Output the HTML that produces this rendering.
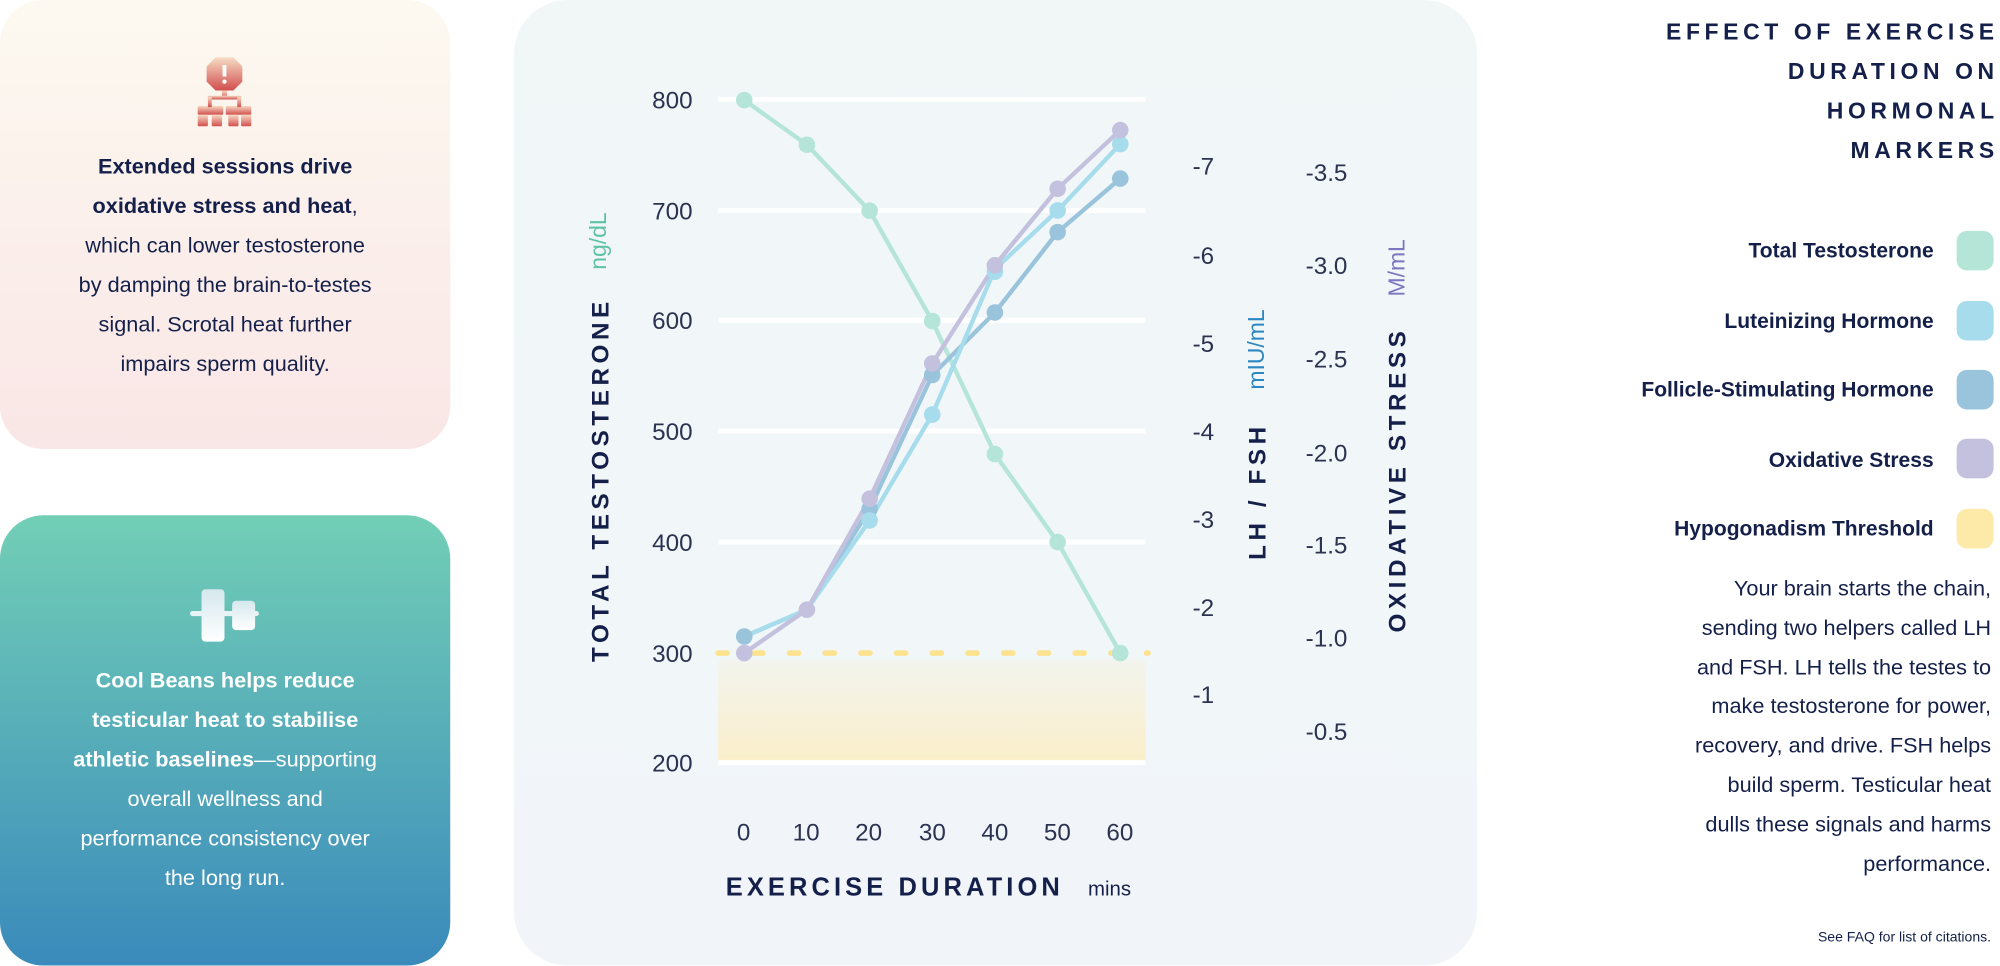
<!DOCTYPE html>
<html><head><meta charset="utf-8"><style>
html,body{margin:0;padding:0;background:#fff;width:2000px;height:965px;overflow:hidden}
#w{position:absolute;left:0;top:0;width:1568px;height:757px;transform:scale(1.27551);transform-origin:0 0;font-family:"Liberation Sans",sans-serif;color:#14204a}
.card{position:absolute;border-radius:34px}
.t{position:absolute;text-align:center;font-size:17px;line-height:31px}
</style></head><body><div id="w">
<div class="card" style="left:0;top:0;width:353px;height:352px;background:linear-gradient(#fdf9f0,#f9e6e6)"></div>
<svg style="position:absolute;left:145px;top:40px" width="62" height="60" viewBox="0 0 62 60">
<defs><linearGradient id="rg" x1="0" y1="0" x2="0" y2="1"><stop offset="0" stop-color="#f6dcc4"/><stop offset="1" stop-color="#d24e4e"/></linearGradient></defs>
<g fill="url(#rg)"><polygon points="24,5 38,5 45,12 45,24 38,31 24,31 17,24 17,12"/>
<rect x="29" y="31" width="4" height="6"/><rect x="18" y="35" width="26" height="3"/>
<rect x="10" y="43" width="20" height="7" rx="1"/><rect x="32" y="43" width="20" height="7" rx="1"/>
<rect x="10" y="50" width="8" height="9" rx="1"/><rect x="21" y="50" width="8" height="9" rx="1"/><rect x="34" y="50" width="8" height="9" rx="1"/><rect x="44" y="50" width="8" height="9" rx="1"/>
<rect x="18" y="36" width="3" height="8"/><rect x="41" y="36" width="3" height="8"/></g>
<rect x="29.5" y="11" width="3" height="9" fill="#fff"/><circle cx="31" cy="24" r="1.7" fill="#fff"/></svg>
<div class="t" style="left:0;width:353px;top:115px"><b>Extended sessions drive<br>oxidative stress and heat</b>,<br>which can lower testosterone<br>by damping the brain-to-testes<br>signal. Scrotal heat further<br>impairs sperm quality.</div>

<div class="card" style="left:0;top:404px;width:353px;height:353px;background:linear-gradient(#72cfb6,#3a8abb)"></div>
<svg style="position:absolute;left:145px;top:455px" width="62" height="60" viewBox="0 0 62 60">
<defs><linearGradient id="wg" x1="0" y1="0" x2="0" y2="1"><stop offset="0" stop-color="#d5e8ee"/><stop offset="1" stop-color="#fff"/></linearGradient></defs>
<rect x="4" y="24" width="54" height="4" rx="2" fill="#e8f3f5"/>
<rect x="13" y="7" width="18" height="41" rx="3" fill="url(#wg)"/><rect x="37" y="16" width="18" height="23" rx="3" fill="url(#wg)"/></svg>
<div class="t" style="left:0;width:353px;top:518px;color:#fff"><b>Cool Beans helps reduce<br>testicular heat to stabilise<br>athletic baselines</b>—supporting<br>overall wellness and<br>performance consistency over<br>the long run.</div>

<div class="card" style="left:403px;top:0;width:755px;height:757px;border-radius:42px;background:linear-gradient(#f1f7f7,#f1f5fa)"></div>
<svg style="position:absolute;left:0;top:0" width="1568" height="757">
<defs><linearGradient id="band" x1="0" y1="0" x2="0" y2="1"><stop offset="0" stop-color="#f2f4ee"/><stop offset="1" stop-color="#fbefcb"/></linearGradient></defs>
<rect x="563" y="517" width="335" height="80" fill="url(#band)"/>
<g stroke="#fff" stroke-width="4"><line x1="563" x2="898" y1="78" y2="78"/><line x1="563" x2="898" y1="165" y2="165"/><line x1="563" x2="898" y1="251" y2="251"/><line x1="563" x2="898" y1="338" y2="338"/><line x1="563" x2="898" y1="425" y2="425"/><line x1="563" x2="898" y1="598" y2="598"/></g>
<line x1="563" x2="900" y1="512" y2="512" stroke="#fde38f" stroke-width="4.5" stroke-linecap="round" stroke-dasharray="7 21"/>
<g font-size="19" fill="#2b3350" text-anchor="end"><text x="543" y="85">800</text><text x="543" y="172">700</text><text x="543" y="258">600</text><text x="543" y="345">500</text><text x="543" y="432">400</text><text x="543" y="519">300</text><text x="543" y="605">200</text></g>
<g font-size="19" fill="#2b3350" text-anchor="middle"><text x="583" y="659">0</text><text x="632" y="659">10</text><text x="681" y="659">20</text><text x="731" y="659">30</text><text x="780" y="659">40</text><text x="829" y="659">50</text><text x="878" y="659">60</text></g>
<g font-size="19" fill="#2b3350"><text x="935" y="137">-7</text><text x="935" y="207">-6</text><text x="935" y="276">-5</text><text x="935" y="345">-4</text><text x="935" y="414">-3</text><text x="935" y="483">-2</text><text x="935" y="551">-1</text></g>
<g font-size="19" fill="#2b3350" text-anchor="middle"><text x="1040" y="142">-3.5</text><text x="1040" y="215">-3.0</text><text x="1040" y="288">-2.5</text><text x="1040" y="362">-2.0</text><text x="1040" y="434">-1.5</text><text x="1040" y="507">-1.0</text><text x="1040" y="580">-0.5</text></g>
<g font-weight="bold" font-size="19" fill="#14204a" text-anchor="middle" letter-spacing="3.6">
<text transform="translate(477,376) rotate(-90)">TOTAL TESTOSTERONE</text>
<text transform="translate(992,385) rotate(-90)">LH / FSH</text>
<text transform="translate(1102,376) rotate(-90)">OXIDATIVE STRESS</text></g>
<g font-size="18" text-anchor="middle">
<text transform="translate(475,189) rotate(-90)" fill="#5fc3a3">ng/dL</text>
<text transform="translate(991,274) rotate(-90)" fill="#2b87c2">mIU/mL</text>
<text transform="translate(1101,210) rotate(-90)" fill="#7a76c0">M/mL</text></g>
<text x="569" y="702" font-weight="bold" font-size="20" letter-spacing="3.2" fill="#14204a">EXERCISE DURATION</text>
<text x="853" y="702" font-size="16" fill="#14204a">mins</text>
<g fill="none" stroke-width="3.4" stroke-linejoin="round">
<polyline stroke="#b4e5d8" points="583.5,78.5 632.6,113.5 681.8,165.2 730.9,251.7 780,356 829.2,425 878.3,512"/>
<polyline stroke="#9ac4dc" points="583.5,499 632.6,478 681.8,399 730.9,294 780,245 829.2,182 878.3,140"/>
<polyline stroke="#a6dcec" points="583.5,499 632.6,478 681.8,408 730.9,325 780,211 829.2,165 878.3,113"/>
<polyline stroke="#c3c1de" points="583.5,512 632.6,478 681.8,391 730.9,285 780,208 829.2,148 878.3,102"/>
</g>
<g fill="#b4e5d8"><circle cx="583.5" cy="78.5" r="6.5"/><circle cx="632.6" cy="113.5" r="6.5"/><circle cx="681.8" cy="165.2" r="6.5"/><circle cx="730.9" cy="251.7" r="6.5"/><circle cx="780" cy="356" r="6.5"/><circle cx="829.2" cy="425" r="6.5"/><circle cx="878.3" cy="512" r="6.5"/></g>
<g fill="#9ac4dc"><circle cx="583.5" cy="499" r="6.5"/><circle cx="681.8" cy="399" r="6.5"/><circle cx="730.9" cy="294" r="6.5"/><circle cx="780" cy="245" r="6.5"/><circle cx="829.2" cy="182" r="6.5"/><circle cx="878.3" cy="140" r="6.5"/></g>
<g fill="#a6dcec"><circle cx="681.8" cy="408" r="6.5"/><circle cx="730.9" cy="325" r="6.5"/><circle cx="780" cy="213" r="6.5"/><circle cx="829.2" cy="165" r="6.5"/><circle cx="878.3" cy="113" r="6.5"/></g>
<g fill="#c3c1de"><circle cx="583.5" cy="512" r="6.5"/><circle cx="632.6" cy="478" r="6.5"/><circle cx="681.8" cy="391" r="6.5"/><circle cx="730.9" cy="285" r="6.5"/><circle cx="780" cy="208" r="6.5"/><circle cx="829.2" cy="148" r="6.5"/><circle cx="878.3" cy="102" r="6.5"/></g>
</svg>

<div style="position:absolute;right:1px;top:10px;text-align:right;font-weight:bold;font-size:18px;line-height:31px;letter-spacing:3.6px">EFFECT OF EXERCISE<br>DURATION ON<br>HORMONAL<br>MARKERS</div>
<div style="position:absolute;right:52px;top:170px;text-align:right;font-weight:bold;font-size:16.5px;line-height:54.5px">Total Testosterone<br>Luteinizing Hormone<br>Follicle-Stimulating Hormone<br>Oxidative Stress<br>Hypogonadism Threshold</div>
<div style="position:absolute;left:1534px;top:181px;width:29px;height:31px;border-radius:8px;background:#b4e5d6"></div>
<div style="position:absolute;left:1534px;top:236px;width:29px;height:31px;border-radius:8px;background:#a6dcec"></div>
<div style="position:absolute;left:1534px;top:290px;width:29px;height:31px;border-radius:8px;background:#9ac4dc"></div>
<div style="position:absolute;left:1534px;top:344px;width:29px;height:31px;border-radius:8px;background:#c3c1de"></div>
<div style="position:absolute;left:1534px;top:399px;width:29px;height:31px;border-radius:8px;background:#fde9a8"></div>
<div style="position:absolute;right:7px;top:447px;text-align:right;font-size:17px;line-height:30.8px">Your brain starts the chain,<br>sending two helpers called LH<br>and FSH. LH tells the testes to<br>make testosterone for power,<br>recovery, and drive. FSH helps<br>build sperm. Testicular heat<br>dulls these signals and harms<br>performance.</div>
<div style="position:absolute;right:7px;top:729px;font-size:11px">See FAQ for list of citations.</div>
</div></body></html>
